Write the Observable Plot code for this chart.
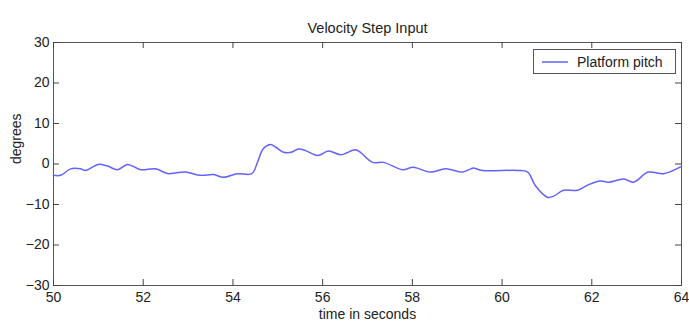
<!DOCTYPE html>
<html><head><meta charset="utf-8">
<script src="https://cdn.jsdelivr.net/npm/d3@7"></script>
<script src="https://cdn.jsdelivr.net/npm/@observablehq/plot@0.6"></script>
<style>
body{margin:0;background:#fff;}
#chart{position:relative;width:689px;height:327px;font-family:"Liberation Sans",Arial,sans-serif;}
#legend{position:absolute;left:533px;top:49px;width:143px;height:25px;border:1px solid #555;background:#fff;box-sizing:border-box;
  font-size:14px;color:#222;display:flex;align-items:center;}
#legend svg{margin-left:8px;margin-right:9px;}
</style></head><body><div id="chart"></div>
<script>
const title = "Velocity Step Input";
const xLabel = "time in seconds";
const yLabel = "degrees";
const seriesName = "Platform pitch";
const xTicks = [50, 52, 54, 56, 58, 60, 62, 64];
const yTicks = [-30, -20, -10, 0, 10, 20, 30];
const time = [50.0, 50.16, 50.38, 50.6, 50.71, 51.0, 51.2, 51.43, 51.65, 51.94, 52.27, 52.56, 52.72, 52.94, 53.28, 53.57, 53.79, 54.1, 54.42, 54.55, 54.68, 54.84, 54.95, 55.13, 55.3, 55.46, 55.62, 55.89, 56.13, 56.4, 56.73, 56.85, 57.11, 57.36, 57.78, 58.02, 58.4, 58.74, 59.12, 59.3, 59.36, 59.56, 60.34, 60.57, 60.74, 61.01, 61.14, 61.37, 61.68, 61.93, 62.19, 62.37, 62.71, 62.93, 63.26, 63.6, 64.0];
const pitch = [-2.8, -2.8, -1.2, -1.2, -1.6, -0.1, -0.5, -1.4, -0.1, -1.4, -1.2, -2.4, -2.2, -2.0, -2.8, -2.6, -3.3, -2.4, -2.4, 0.5, 3.8, 4.8, 4.2, 2.9, 2.9, 3.7, 3.3, 2.1, 3.2, 2.3, 3.5, 2.8, 0.4, 0.4, -1.4, -0.8, -2.0, -1.2, -2.0, -1.2, -1.0, -1.6, -1.6, -2.0, -5.3, -8.2, -8.0, -6.5, -6.5, -5.1, -4.2, -4.5, -3.7, -4.5, -2.0, -2.4, -0.6];
const lineColor = "#6262ff";

const W = 689, H = 327, ML = 53, MR = 8, MT = 42, MB = 42;
const xDomain = [50, 64], yDomain = [-30, 30];
const tickLen = 6;
const innerH = H - MT - MB, innerW = W - ML - MR;
const dyTick = tickLen / innerH * (yDomain[1] - yDomain[0]);
const dxTick = tickLen / innerW * (xDomain[1] - xDomain[0]);
const data = time.map((t, i) => ({t, v: pitch[i]}));
const tickStyle = {stroke: "#444", strokeWidth: 1};
const inwardTicks = [
  Plot.ruleX(xTicks, {x: d => d, y1: () => yDomain[0], y2: () => yDomain[0] + dyTick, ...tickStyle}),
  Plot.ruleX(xTicks, {x: d => d, y1: () => yDomain[1], y2: () => yDomain[1] - dyTick, ...tickStyle}),
  Plot.ruleY(yTicks, {y: d => d, x1: () => xDomain[0], x2: () => xDomain[0] + dxTick, ...tickStyle}),
  Plot.ruleY(yTicks, {y: d => d, x1: () => xDomain[1], x2: () => xDomain[1] - dxTick, ...tickStyle})
];

const chart = Plot.plot({
  width: W, height: H,
  marginLeft: ML, marginRight: MR, marginTop: MT, marginBottom: MB,
  style: {fontFamily: '"Liberation Sans", Arial, sans-serif', fontSize: "14px", color: "#222", background: "#fff"},
  x: {domain: xDomain, label: null},
  y: {domain: yDomain, label: null},
  marks: [
    Plot.frame({stroke: "#555"}),
    ...inwardTicks,
    Plot.axisX(xTicks, {anchor: "bottom", tickSize: 0, tickPadding: 7, label: null, fontSize: 14}),
    Plot.axisY(yTicks, {anchor: "left", tickSize: 0, tickPadding: 4, label: null, fontSize: 14}),
    Plot.line(data, {x: "t", y: "v", stroke: lineColor, strokeWidth: 1.5, curve: "catmull-rom"}),
    Plot.text([title], {frameAnchor: "top", dy: -20, fontSize: 14.5, fill: "#222"}),
    Plot.text([xLabel], {frameAnchor: "bottom", dy: 33, fontSize: 14, fill: "#222"}),
    Plot.text([yLabel], {frameAnchor: "left", dx: -37, rotate: -90, fontSize: 14, fill: "#222"})
  ]
});
const root = document.getElementById("chart");
root.appendChild(chart);
const legend = document.createElement("div");
legend.id = "legend";
legend.innerHTML = `<svg width="26" height="4"><line x1="0" y1="2" x2="26" y2="2" stroke="${lineColor}" stroke-width="1.5"/></svg><span>${seriesName}</span>`;
root.appendChild(legend);
</script>
</body></html>
